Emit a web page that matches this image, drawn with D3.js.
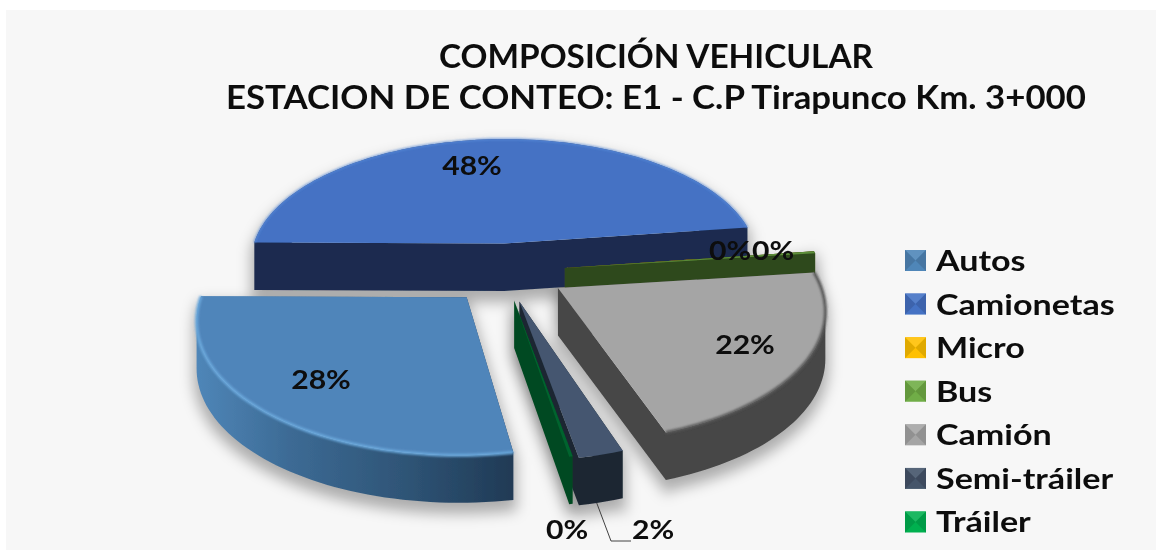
<!DOCTYPE html>
<html><head><meta charset="utf-8">
<script src="https://cdn.jsdelivr.net/npm/d3@7"></script>
<style>html,body{margin:0;padding:0;background:#fff}svg{display:block}</style>
</head><body><svg id="c" width="1163" height="556"></svg>
<script>
// ---- data ----
const categories = ["Autos","Camionetas","Micro","Bus","Camión","Semi-tráiler","Tráiler"];
const values = [27.9,47.7,0.02,0.25,21.6,2.35,0.18];
const titleLines = ["COMPOSICIÓN VEHICULAR","ESTACION DE CONTEO: E1 - C.P Tirapunco Km. 3+000"];
const topColors = ["#5085ba","#4472c4","#ffc000","#5d8f3a","#a5a5a5","#44566f","#02632f"];
const wallColors = ["#35597c","#1b2c50","#7f6000","#2f4a1b","#464646","#1c2633","#024a21"];
const legendColors = ["#4f86b8","#4472c4","#ffc000","#70ad47","#a5a5a5","#44546a","#00b050"];
// ---- layout ----
const W=1163,H=556,cx=510,cy=270,R=258,k=0.49,persp=0.00056,depth=47.5;
const explodeX=[-42,-6,55,55,47,9,4];
const explodeY=[54,-56,-4,-4,36,62,60];
const labelAt=[[321,380],[472,166],[730,251],[773,251],[745,345],[653,530],[567,530]];
const titleWidths=[434,860];
const rotation=170*Math.PI/180;

const svg=d3.select("#c");
const defs=svg.append("defs");
defs.append("filter").attr("id","shadow").attr("x","-20%").attr("y","-20%").attr("width","140%").attr("height","140%")
  .append("feGaussianBlur").attr("stdDeviation",7);
defs.append("filter").attr("id","soft").attr("filterUnits","userSpaceOnUse").attr("x",0).attr("y",0).attr("width",W).attr("height",H)
  .append("feGaussianBlur").attr("stdDeviation",0.55);
defs.append("filter").attr("id","rim").attr("x","-5%").attr("y","-5%").attr("width","110%").attr("height","110%")
  .append("feGaussianBlur").attr("stdDeviation",1.2);
const g0=defs.append("linearGradient").attr("id","autosWall");
[[0,"#4f86b8"],[0.3,"#3c6a94"],[0.65,"#2f5577"],[1,"#203a55"]].forEach(s=>g0.append("stop").attr("offset",s[0]).attr("stop-color",s[1]));

svg.append("rect").attr("x",6).attr("y",10).attr("width",W-13).attr("height",H-16).attr("fill","#f7f7f7");
const root=svg.append("g").attr("filter","url(#soft)");

const total=d3.sum(values);
const arcs=d3.pie().sort(null).startAngle(rotation).endAngle(rotation+2*Math.PI)(values);
const project=(x,y,z=0)=>{const f=1/(1-persp*y);return [cx+x*f,cy+k*y*f+z];};
const line=d3.line();
const slices=arcs.map((a,i)=>{
  const ox=explodeX[i],oy=explodeY[i];
  const steps=Math.max(2,Math.ceil((a.endAngle-a.startAngle)/0.03));
  const rim=d3.range(steps+1).map(j=>{
    const t=a.startAngle+(a.endAngle-a.startAngle)*j/steps;
    return [ox+R*Math.sin(t),oy-R*Math.cos(t)];
  });
  return {i,apex:[ox,oy],rim};
});
const quads=(pts)=>pts.slice(0,-1).map((p,j)=>{
  const q=pts[j+1];
  const poly=[project(p[0],p[1]),project(q[0],q[1]),project(q[0],q[1],depth),project(p[0],p[1],depth)];
  if(d3.polygonArea(poly)<0) poly.reverse();
  return line(poly)+"Z";
}).join("");
const drawOrder=[1,2,3,4,5,6,0];
// shadows
root.append("g").attr("filter","url(#shadow)").attr("transform","translate(0,8)")
 .selectAll("path").data(slices.filter(s=>s.i!==2)).join("path")
 .attr("d",s=>{const o=[s.apex,...s.rim,s.apex];return quads(o);})
 .attr("fill","#000").attr("stroke","#000").attr("stroke-width",6).attr("opacity",0.3);
// slices, back to front
const sg=root.append("g").selectAll("g").data(drawOrder.map(i=>slices[i])).join("g");
sg.append("path").attr("d",s=>quads([s.apex,...s.rim,s.apex]))
  .attr("fill",s=>s.i===0?"url(#autosWall)":wallColors[s.i]);
sg.append("path").attr("d",s=>line([s.apex,...s.rim].map(p=>project(p[0],p[1])))+"Z")
  .attr("fill",s=>topColors[s.i]);
// bevel highlights on the rim
const rimPath=s=>line(s.rim.map(p=>project(p[0],p[1])));
sg.filter(s=>s.i===0).append("path").attr("d",rimPath).attr("fill","none")
  .attr("stroke","#6aa8dc").attr("stroke-width",3).attr("filter","url(#rim)");
sg.filter(s=>s.i===4).append("path").attr("d",rimPath).attr("fill","none")
  .attr("stroke","#5a5a5a").attr("stroke-width",3).attr("filter","url(#rim)");
sg.filter(s=>s.i===1).append("path").attr("d",rimPath).attr("fill","none")
  .attr("stroke","#5b8ddb").attr("stroke-width",1.5).attr("filter","url(#rim)");

// labels
const fmt=d3.format(".0%");
root.append("g").selectAll("text").data(values).join("text")
  .attr("transform",(d,i)=>`translate(${labelAt[i][0]},${labelAt[i][1]}) scale(1.16,1)`).attr("dy","0.36em")
  .attr("text-anchor","middle").attr("font-family","Lato").attr("font-weight",700).attr("font-size",26)
  .attr("fill","#0d0d0d").text(d=>fmt(d/total));
// leader line for Semi-tráiler
const leadStart=project(...slices[5].rim[Math.floor(slices[5].rim.length/2)],depth);
root.append("path").attr("d",line([leadStart,[611,541],[631,541]]))
  .attr("fill","none").attr("stroke","#404040").attr("stroke-width",1);

// title
root.append("g").selectAll("text").data(titleLines).join("text")
  .attr("x",(d,i)=>656-titleWidths[i]/2).attr("y",(d,i)=>d3.scaleLinear([0,1],[68,109])(i))
  .attr("textLength",(d,i)=>titleWidths[i]).attr("lengthAdjust","spacingAndGlyphs")
  .attr("font-family","Lato").attr("font-weight",700).attr("font-size",32.5)
  .attr("fill","#111").text(d=>d);

// legend
const ly=d3.scalePoint(categories,[260.5,522]);
const s=21,lx=905;
const lg=root.append("g").selectAll("g").data(categories).join("g")
  .attr("transform",d=>`translate(${lx},${ly(d)-s/2})`);
const shade=(c,t)=>t>0?d3.interpolateRgb(c,"#fff")(t):d3.interpolateRgb(c,"#000")(-t);
lg.append("rect").attr("width",s).attr("height",s).attr("fill",(d,i)=>legendColors[i]);
lg.append("path").attr("d",`M0,0L${s},0L${s/2},${s/2}Z`).attr("fill",(d,i)=>shade(legendColors[i],0.1));
lg.append("path").attr("d",`M0,0L0,${s}L${s/2},${s/2}Z`).attr("fill",(d,i)=>shade(legendColors[i],-0.12));
lg.append("path").attr("d",`M${s},0L${s},${s}L${s/2},${s/2}Z`).attr("fill",(d,i)=>shade(legendColors[i],-0.12));
lg.append("text").text(d=>d).attr("transform",`translate(31,${s/2}) scale(1.175,1)`).attr("dy","0.36em")
  .attr("font-family","Lato").attr("font-weight",700).attr("font-size",29).attr("fill","#111");
</script></body></html>
